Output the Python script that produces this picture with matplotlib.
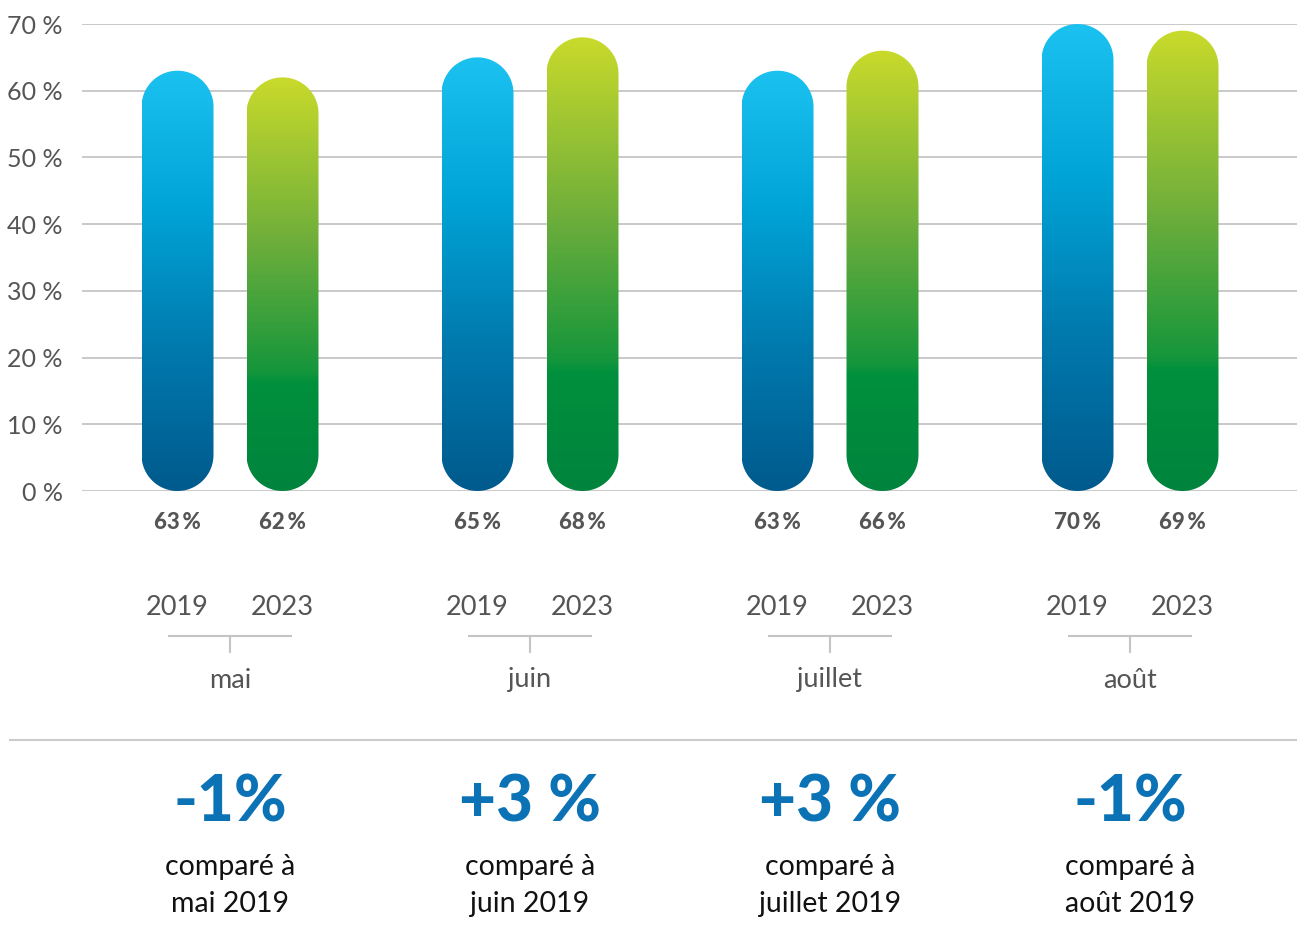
import numpy as np
import matplotlib
matplotlib.use("Agg")
import matplotlib.pyplot as plt
from matplotlib.path import Path
from matplotlib.patches import PathPatch
from matplotlib.colors import LinearSegmentedColormap

months = ["mai", "juin", "juillet", "août"]
years = ["2019", "2023"]
values_2019 = [63, 65, 63, 70]
values_2023 = [62, 68, 66, 69]
changes = ["-1%", "+3 %", "+3 %", "-1%"]
y_ticks = [0, 10, 20, 30, 40, 50, 60, 70]

W, H = 1297, 938
plt.rcParams["font.family"] = ["Lato", "DejaVu Sans"]

fig = plt.figure(figsize=(W / 100, H / 100), dpi=100)

# axes placed in pixel terms: 0 % at y=491, 70 % at y=24
ax_left, ax_right, ax_top, ax_bot = 82, 1297, 24, 491
ax = fig.add_axes([ax_left / W, 1 - ax_bot / H, (ax_right - ax_left) / W, (ax_bot - ax_top) / H])

group_px = 300  # pixels per group
x0 = -(230 - ax_left) / group_px
ax.set_xlim(x0, x0 + (ax_right - ax_left) / group_px)
ax.set_ylim(0, 70)
px_y = (ax_bot - ax_top) / 70.0

for t in y_ticks:
    ax.axhline(t, color="#c9c9c9", lw=1.4, zorder=0)
for s in ax.spines.values():
    s.set_visible(False)
ax.set_xticks([])
ax.set_yticks(y_ticks)
ax.set_yticklabels([f"{t} %" for t in y_ticks], fontsize=18, color="#555555")
ax.tick_params(axis="y", length=0, pad=14)

blue_cmap = LinearSegmentedColormap.from_list("b", ["#005a8d", "#0079ad", "#00a3d6", "#1bc2f0"])
green_cmap = LinearSegmentedColormap.from_list(
    "g", [(0, "#00843e"), (0.26, "#00903c"), (0.29, "#16963c"), (0.6, "#6dae3b"), (1, "#c9da2b")])

half_w = 36 / group_px
r_y = 36 / px_y
offset = 105 / 2 / group_px


def pill(cx, top):
    th_top = np.linspace(np.pi, 0, 40)
    th_bot = np.linspace(0, -np.pi, 40)
    pts = [(cx - half_w, r_y), (cx - half_w, top - r_y)]
    pts += [(cx + half_w * np.cos(t), top - r_y + r_y * np.sin(t)) for t in th_top]
    pts += [(cx + half_w, r_y)]
    pts += [(cx + half_w * np.cos(t), r_y + r_y * np.sin(t)) for t in th_bot]
    pts.append(pts[0])
    return Path(pts, closed=True)


grad = np.linspace(0, 1, 256).reshape(-1, 1)
for i in range(len(months)):
    for cx, v, cmap in [(i - offset, values_2019[i], blue_cmap), (i + offset, values_2023[i], green_cmap)]:
        patch = PathPatch(pill(cx, v), facecolor="none", edgecolor="none", transform=ax.transData)
        ax.add_patch(patch)
        im = ax.imshow(grad, cmap=cmap, origin="lower", aspect="auto",
                       extent=[cx - half_w, cx + half_w, 0, v], zorder=2)
        im.set_clip_path(patch)
ax.set_xlim(x0, x0 + (ax_right - ax_left) / group_px)
ax.set_ylim(0, 70)


def ftext(x, y, s, **kw):
    fig.text(x / W, 1 - y / H, s, ha="center", va="center", **kw)


def fline(xs, ys, **kw):
    fig.add_artist(plt.Line2D([x / W for x in xs], [1 - y / H for y in ys], **kw))


for i, m in enumerate(months):
    c = 230 + i * group_px
    ftext(c - 52.5, 522, f"{values_2019[i]}\u2009%", fontsize=16, fontweight="black", color="#555555")
    ftext(c + 52.5, 522, f"{values_2023[i]}\u2009%", fontsize=16, fontweight="black", color="#555555")
    ftext(c - 52.5, 607, years[0], fontsize=19.5, color="#555555")
    ftext(c + 52.5, 607, years[1], fontsize=19.5, color="#555555")
    fline([c - 61, c + 61], [636, 636], color="#c4c4c4", lw=1.5)
    fline([c, c], [636, 652], color="#c4c4c4", lw=1.5)
    ftext(c, 680, m, fontsize=19.5, color="#555555")
    ftext(c, 803, changes[i], fontsize=46, fontweight="black", color="#0b72b5")
    ftext(c, 867, "comparé à", fontsize=20.5, color="#111111")
    ftext(c, 904, f"{m} 2019", fontsize=20.5, color="#111111")

fline([10, 1297], [740, 740], color="#cccccc", lw=1.5)

fig.savefig("out.png", dpi=100)
